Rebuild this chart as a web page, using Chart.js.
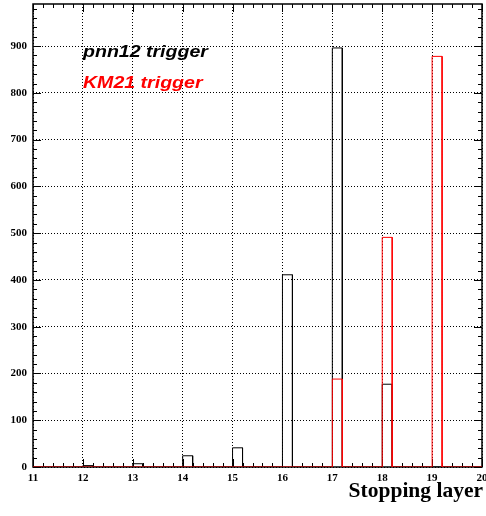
<!DOCTYPE html>
<html>
<head>
<meta charset="utf-8">
<script src="https://cdn.jsdelivr.net/npm/chart.js@4"></script>
<style>
  html, body { margin: 0; padding: 0; background: #fff; }
  #wrap { width: 486px; height: 516px; }
</style>
</head>
<body>
<div id="wrap"><canvas id="layers"></canvas></div>
<script>
// stopping layer histograms (bin width 0.2, left edge at the layer number)
var layers = [12, 13, 14, 15, 16, 17, 18, 19];
var pnn12 = [3, 7, 24, 41, 411, 896, 177, 0];
var km21 = [0, 0, 0, 0, 0, 188, 491, 878];
var binWidth = 0.2;
var xMin = 11, xMax = 20;
var yMax = 990;
var xTicks = [11, 12, 13, 14, 15, 16, 17, 18, 19, 20];
var yTicks = [0, 100, 200, 300, 400, 500, 600, 700, 800, 900];

function histPoints(counts) {
    var pts = [{x: xMin, y: 0}];
    for (var i = 0; i < layers.length; i++) {
        if (!counts[i]) continue;
        pts.push({x: layers[i], y: 0});
        pts.push({x: layers[i], y: counts[i]});
        pts.push({x: layers[i] + binWidth, y: counts[i]});
        pts.push({x: layers[i] + binWidth, y: 0});
    }
    pts.push({x: xMax, y: 0});
    return pts;
}

var frame = {
    id: 'frame',
    beforeDatasetsDraw: function(chart) {
        var c = chart.ctx, a = chart.chartArea;
        var xs = chart.scales.x, ys = chart.scales.y;
        c.save();
        c.strokeStyle = '#000';
        c.lineWidth = 1;
        c.beginPath();
        // y ticks, left and right, pointing inwards
        for (var v = 0; v <= yMax; v += 20) {
            var py = Math.round(ys.getPixelForValue(v)) + 0.5;
            var len = (v % 100 === 0) ? 8 : 4;
            c.moveTo(a.left, py); c.lineTo(a.left + len, py);
            c.moveTo(a.right, py); c.lineTo(a.right - len, py);
        }
        // x ticks, top and bottom
        for (var t = 0; t <= (xMax - xMin) * 5; t++) {
            var xv = xMin + t * 0.2;
            var px = Math.round(xs.getPixelForValue(xv)) + 0.5;
            var l2 = (t % 5 === 0) ? 8 : 4;
            c.moveTo(px, a.bottom); c.lineTo(px, a.bottom - l2);
            c.moveTo(px, a.top); c.lineTo(px, a.top + l2);
        }
        c.stroke();
        c.lineWidth = 1.5;
        c.strokeRect(a.left, a.top, a.right - a.left, a.bottom - a.top);
        c.restore();
    },
    afterDraw: function(chart) {
        var c = chart.ctx, a = chart.chartArea;
        c.save();
        c.font = 'bold 21.5px "Liberation Serif"';
        c.fillStyle = '#000';
        c.textAlign = 'right';
        c.textBaseline = 'alphabetic';
        c.fillText('Stopping layer', a.right + 1, 497);

        c.font = 'italic bold 17px "Liberation Sans"';
        c.textAlign = 'left';
        c.save();
        c.translate(83, 57);
        c.scale(1.15, 1);
        c.fillStyle = '#000';
        c.fillText('pnn12 trigger', 0, 0);
        c.restore();
        c.save();
        c.translate(83, 88);
        c.scale(1.15, 1);
        c.fillStyle = '#ff0000';
        c.fillText('KM21 trigger', 0, 0);
        c.restore();
        c.restore();
    }
};

var tickFont = {family: '"Liberation Serif"', weight: 'bold', size: 11};

var chart = new Chart(document.getElementById('layers').getContext('2d'), {
    type: 'line',
    data: {
        datasets: [{
            label: 'KM21 trigger',
            data: histPoints(km21),
            borderColor: '#ff0000',
            borderWidth: 1,
            pointRadius: 0,
            tension: 0,
            fill: false,
            order: 0
        }, {
            label: 'pnn12 trigger',
            data: histPoints(pnn12),
            borderColor: '#000000',
            borderWidth: 1,
            pointRadius: 0,
            tension: 0,
            fill: false,
            order: 1
        }]
    },
    options: {
        responsive: true,
        maintainAspectRatio: false,
        animation: false,
        layout: {padding: {top: 4, right: 4, left: 0, bottom: 0}},
        plugins: {legend: {display: false}, tooltip: {enabled: false}},
        scales: {
            x: {
                type: 'linear',
                min: xMin,
                max: xMax,
                afterBuildTicks: function(s) { s.ticks = xTicks.map(function(v) { return {value: v}; }); },
                ticks: {color: '#000', font: tickFont, padding: 5, maxRotation: 0, autoSkip: false},
                grid: {color: '#000', lineWidth: 1, drawTicks: false},
                border: {display: false, dash: [1, 2]},
                afterFit: function(s) { s.height = 49; s.paddingLeft = 0; s.paddingRight = 0; }
            },
            y: {
                min: 0,
                max: yMax,
                afterBuildTicks: function(s) { s.ticks = yTicks.map(function(v) { return {value: v}; }); },
                ticks: {color: '#000', font: tickFont, padding: 6, autoSkip: false},
                grid: {color: '#000', lineWidth: 1, drawTicks: false},
                border: {display: false, dash: [1, 2]},
                afterFit: function(s) { s.width = 33; s.paddingTop = 0; s.paddingBottom = 0; }
            }
        }
    },
    plugins: [frame]
});
</script>
</body>
</html>
